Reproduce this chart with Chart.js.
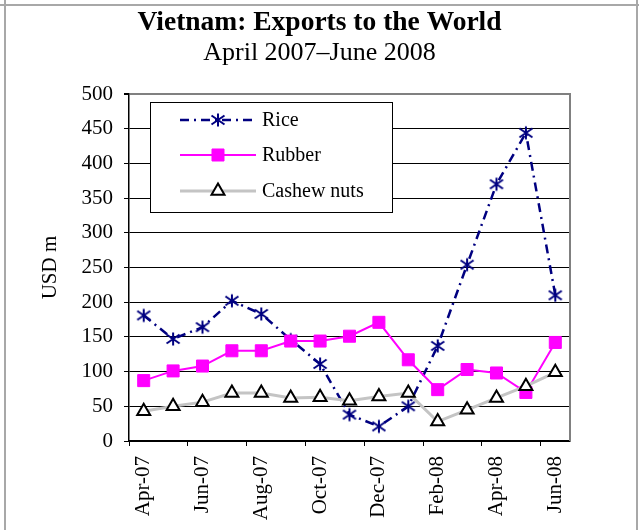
<!DOCTYPE html>
<html>
<head>
<meta charset="utf-8">
<script src="https://cdn.jsdelivr.net/npm/chart.js@4/dist/chart.umd.min.js"></script>
<style>
  html, body { margin: 0; padding: 0; background: #fff; }
  canvas { display: block; }
</style>
</head>
<body>
<canvas id="chart" width="639" height="530"></canvas>
<script>
// Monthly export values, USD million
const months = ['Apr-07','May-07','Jun-07','Jul-07','Aug-07','Sep-07','Oct-07','Nov-07',
                'Dec-07','Jan-08','Feb-08','Mar-08','Apr-08','May-08','Jun-08'];
const rice   = [181, 147, 164, 202, 183, 146, 111, 38, 21, 50, 137, 254, 370, 444, 210];
const rubber = [87, 101, 108, 130, 130, 144, 144, 151, 171, 117, 74, 103, 98, 70, 142];
const cashew = [43, 50, 56, 69, 69, 62, 63, 58, 64, 69, 28, 45, 62, 79, 99];
const yTicks = [0, 50, 100, 150, 200, 250, 300, 350, 400, 450, 500];

const SERIF = "'Liberation Serif', 'Times New Roman', serif";
Chart.defaults.font.family = SERIF;
Chart.defaults.color = '#000';

// Six-armed asterisk marker (vertical stroke plus an X)
function asteriskMarker(color) {
  const c = document.createElement('canvas');
  c.width = 16; c.height = 16;
  const g = c.getContext('2d');
  g.strokeStyle = color;
  g.lineWidth = 2;
  g.beginPath();
  g.moveTo(8, 1.5);  g.lineTo(8, 14.5);
  g.moveTo(1.5, 3.5); g.lineTo(14.5, 12.5);
  g.moveTo(1.5, 12.5); g.lineTo(14.5, 3.5);
  g.stroke();
  return c;
}
const riceMarker = asteriskMarker('#000080');

// White page background and the thin grey frame around the figure
const pageFrame = {
  id: 'pageFrame',
  beforeDraw(chart) {
    const ctx = chart.ctx;
    ctx.save();
    ctx.fillStyle = '#fff';
    ctx.fillRect(0, 0, chart.width, chart.height);
    ctx.strokeStyle = '#a8a8a8';
    ctx.lineWidth = 2;
    ctx.beginPath();
    ctx.moveTo(0, 5); ctx.lineTo(chart.width, 5);
    ctx.moveTo(5, 0); ctx.lineTo(5, chart.height);
    ctx.moveTo(637, 0); ctx.lineTo(637, chart.height);
    ctx.stroke();
    ctx.restore();
  }
};

// Grey right-hand border of the plot area
const plotBorder = {
  id: 'plotBorder',
  beforeDatasetsDraw(chart) {
    const { ctx, chartArea: a } = chart;
    ctx.save();
    ctx.strokeStyle = '#808080';
    ctx.lineWidth = 2;
    ctx.beginPath();
    ctx.moveTo(a.right, a.top - 1);
    ctx.lineTo(a.right, a.bottom);
    ctx.stroke();
    ctx.restore();
  }
};

// Boxed legend placed inside the plot area
const boxLegend = {
  id: 'boxLegend',
  afterDraw(chart) {
    const ctx = chart.ctx;
    const box = { x: 150.5, y: 102.5, w: 242, h: 110 };
    ctx.save();
    ctx.fillStyle = '#fff';
    ctx.fillRect(box.x, box.y, box.w, box.h);
    ctx.strokeStyle = '#000';
    ctx.lineWidth = 1;
    ctx.strokeRect(box.x, box.y, box.w, box.h);
    const rows = [120, 155, 191];
    chart.data.datasets.forEach((ds, i) => {
      const y = rows[i];
      ctx.save();
      ctx.strokeStyle = ds.borderColor;
      ctx.lineWidth = ds.borderWidth;
      ctx.setLineDash(ds.borderDash || []);
      ctx.beginPath();
      ctx.moveTo(180, y);
      ctx.lineTo(256, y);
      ctx.stroke();
      ctx.restore();
      ctx.save();
      ctx.fillStyle = ds.pointBackgroundColor;
      ctx.strokeStyle = ds.pointBorderColor;
      ctx.lineWidth = ds.pointBorderWidth;
      Chart.helpers.drawPoint(ctx, {
        pointStyle: ds.pointStyle,
        radius: ds.pointRadius,
        borderWidth: ds.pointBorderWidth,
        rotation: 0
      }, 218, y);
      ctx.restore();
      ctx.fillStyle = '#000';
      ctx.font = '20px ' + SERIF;
      ctx.textBaseline = 'middle';
      ctx.textAlign = 'left';
      ctx.fillText(ds.label, 262, y + 1);
    });
    ctx.restore();
  }
};

new Chart(document.getElementById('chart'), {
  type: 'line',
  data: {
    labels: months,
    datasets: [
      {
        label: 'Rice',
        data: rice,
        order: 3,
        borderColor: '#000080',
        borderWidth: 2.5,
        borderDash: [9, 5, 2, 5],
        pointStyle: riceMarker,
        pointRadius: 8,
        pointBackgroundColor: '#000080',
        pointBorderColor: '#000080',
        pointBorderWidth: 2,
        tension: 0
      },
      {
        label: 'Rubber',
        data: rubber,
        order: 2,
        borderColor: '#ff00ff',
        borderWidth: 2,
        pointStyle: 'rect',
        pointRadius: 8.5,
        pointBackgroundColor: '#ff00ff',
        pointBorderColor: '#ff00ff',
        pointBorderWidth: 1,
        tension: 0
      },
      {
        label: 'Cashew nuts',
        data: cashew,
        order: 1,
        borderColor: '#c4c4c4',
        borderWidth: 3,
        pointStyle: 'triangle',
        pointRadius: 7.5,
        pointBackgroundColor: '#fff',
        pointBorderColor: '#000',
        pointBorderWidth: 2,
        tension: 0
      }
    ]
  },
  options: {
    responsive: false,
    animation: false,
    devicePixelRatio: 1,
    layout: { padding: { left: 0, right: 0, top: 0, bottom: 0 } },
    plugins: {
      legend: { display: false },
      tooltip: { enabled: false },
      title: {
        display: true,
        text: 'Vietnam: Exports to the World',
        color: '#000',
        font: { family: SERIF, size: 27.5, weight: 'bold', lineHeight: 1.0 },
        padding: { top: 9, bottom: 0 }
      },
      subtitle: {
        display: true,
        text: 'April 2007\u2013June 2008',
        color: '#000',
        font: { family: SERIF, size: 26, weight: 'normal', lineHeight: 1.0 },
        padding: { top: 4, bottom: 27.5 }
      }
    },
    scales: {
      x: {
        type: 'category',
        offset: true,
        afterFit(s) { s.height = 89; },
        border: { display: true, color: '#000', width: 1.5 },
        grid: {
          display: true,
          offset: true,
          drawOnChartArea: false,
          drawTicks: true,
          tickLength: 5,
          tickWidth: 1,
          color: (c) => (c.index % 2 === 0 ? '#000' : 'rgba(0,0,0,0)'),
          tickColor: (c) => (c.index % 2 === 0 ? '#000' : 'rgba(0,0,0,0)')
        },
        ticks: {
          autoSkip: false,
          minRotation: 90,
          maxRotation: 90,
          padding: 10,
          color: '#000',
          font: { family: SERIF, size: 21 },
          callback: function (val, idx) {
            return idx % 2 === 0 ? this.getLabelForValue(val) : '';
          }
        }
      },
      y: {
        position: 'left',
        min: 0,
        max: 500,
        afterFit(s) { s.width = 129; },
        afterBuildTicks(s) { s.ticks = yTicks.map(v => ({ value: v })); },
        border: { display: true, color: '#000', width: 1.5 },
        grid: {
          drawTicks: true,
          tickLength: 5,
          tickColor: '#000',
          color: (c) => (c.tick && c.tick.value === 500 ? '#808080' : '#000'),
          lineWidth: (c) => (c.tick && c.tick.value === 500 ? 2 : 1)
        },
        ticks: {
          padding: 11,
          color: '#000',
          font: { family: SERIF, size: 21 }
        },
        title: {
          display: true,
          text: 'USD m',
          color: '#000',
          font: { family: SERIF, size: 21, lineHeight: 1.2 },
          padding: { top: 38, bottom: 0 }
        }
      },
      yRight: {
        position: 'right',
        display: true,
        min: 0,
        max: 500,
        afterFit(s) { s.width = 69; },
        border: { display: false },
        grid: { display: false, drawTicks: false },
        ticks: { display: false }
      }
    }
  },
  plugins: [pageFrame, plotBorder, boxLegend]
});
</script>
</body>
</html>
